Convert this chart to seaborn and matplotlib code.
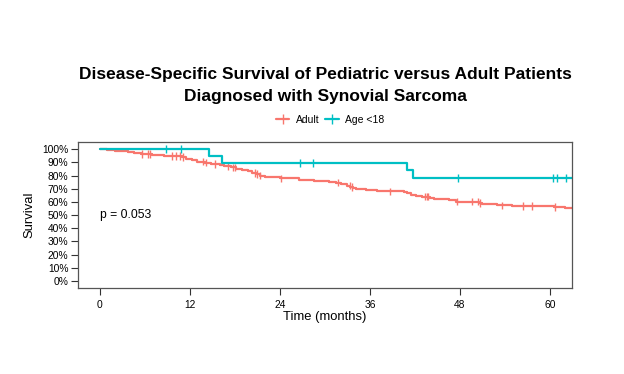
import numpy as np
import pandas as pd
import seaborn as sns
import matplotlib.pyplot as plt
from matplotlib.lines import Line2D
from matplotlib.ticker import PercentFormatter

sns.set_style('white')
plt.rcParams['font.family'] = ['Liberation Sans', 'DejaVu Sans']
plt.rcParams['text.color'] = 'black'
plt.rcParams['axes.labelcolor'] = 'black'
plt.rcParams['xtick.color'] = 'black'
plt.rcParams['ytick.color'] = 'black'

# step points of the Kaplan-Meier curves (time in months, survival after the step)
adult_time = [0, 1.0, 2.0, 3.0, 3.7, 4.5, 5.5, 7.0, 8.5, 11.0, 11.5, 12.3, 13.0, 14.0,
              14.8, 16.0, 16.5, 17.5, 18.2, 19.0, 19.8, 20.3, 20.8, 21.3, 22.0, 23.0,
              24.0, 26.5, 28.5, 30.5, 31.5, 32.2, 33.0, 33.4, 33.8, 34.2, 35.5, 37.0,
              40.5, 41.0, 41.5, 42.2, 43.0, 44.0, 44.5, 46.5, 47.5, 50.5, 51.0, 53.0,
              55.0, 60.5, 62.0, 62.7, 64.0]
adult_surv = [1.0, 0.995, 0.99, 0.983, 0.977, 0.970, 0.964, 0.958, 0.951, 0.940, 0.926,
              0.915, 0.906, 0.899, 0.890, 0.880, 0.873, 0.862, 0.852, 0.842, 0.832, 0.820,
              0.810, 0.800, 0.792, 0.786, 0.778, 0.770, 0.762, 0.754, 0.746, 0.737, 0.724,
              0.711, 0.703, 0.696, 0.688, 0.680, 0.672, 0.664, 0.656, 0.648, 0.640, 0.628,
              0.620, 0.612, 0.602, 0.592, 0.584, 0.574, 0.567, 0.563, 0.557, 0.550, 0.550]
adult_censor = [5.6, 6.4, 6.7, 9.6, 10.2, 10.7, 11.1, 13.8, 14.2, 15.3, 17.1, 17.8, 18.0,
                20.7, 20.9, 21.3, 24.2, 31.8, 33.3, 33.6, 38.7, 43.3, 43.6, 43.8, 47.6,
                49.6, 50.4, 50.7, 53.6, 56.4, 57.6, 60.7]

child_time = [0, 14.5, 16.3, 41.0, 41.8, 64.0]
child_surv = [1.0, 0.95, 0.896, 0.84, 0.78, 0.78]
child_censor = [8.8, 10.8, 26.7, 28.4, 47.8, 60.4, 60.9, 62.1]

groups = ['Adult', 'Age <18']
colors = ['#F8766D', '#00BFC4']


def surv_at(times, survs, t):
    idx = np.searchsorted(times, t, side='right') - 1
    return np.asarray(survs)[idx]


curves = pd.concat([
    pd.DataFrame({'time': adult_time, 'surv': adult_surv, 'group': 'Adult'}),
    pd.DataFrame({'time': child_time, 'surv': child_surv, 'group': 'Age <18'}),
])
censors = pd.concat([
    pd.DataFrame({'time': adult_censor, 'surv': surv_at(adult_time, adult_surv, adult_censor), 'group': 'Adult'}),
    pd.DataFrame({'time': child_censor, 'surv': surv_at(child_time, child_surv, child_censor), 'group': 'Age <18'}),
])

fig = plt.figure(figsize=(6.24, 3.74), dpi=100)
ax = fig.add_axes([0.125, 0.231, 0.791, 0.390])

palette = dict(zip(groups, colors))
for g in groups:
    d = curves[curves.group == g]
    ax.step(d.time, d.surv, where='post', color=palette[g], lw=1.6)
sns.scatterplot(data=censors, x='time', y='surv', hue='group', palette=palette,
                marker='|', s=30, linewidth=1.0, legend=False, ax=ax)

ax.set_xlim(-2.93, 62.9)
ax.set_ylim(-0.051, 1.057)
ax.set_xticks([0, 12, 24, 36, 48, 60])
ax.set_yticks(np.arange(0, 1.01, 0.1))
ax.yaxis.set_major_formatter(PercentFormatter(1.0, decimals=0))
ax.tick_params(axis='both', direction='out', length=5, width=0.8, labelsize=7.4,
               left=True, bottom=True, color='#333333', pad=2)
ax.tick_params(axis='x', pad=4)
for s in ax.spines.values():
    s.set_color('#555555')
    s.set_linewidth(0.9)

ax.set_xlabel('Time (months)', fontsize=9.4, labelpad=1)
ax.set_ylabel('Survival', fontsize=9.4)
ax.yaxis.set_label_coords(-0.086, 0.5)
ax.text(0, 0.5, 'p = 0.053', fontsize=8.7, ha='left', va='center')

handles = [Line2D([], [], color=c, lw=1.6, marker='|', markersize=7, markeredgewidth=1.0)
           for c in colors]
fig.legend(handles, groups, loc='center', bbox_to_anchor=(0.529, 0.679), ncol=2,
           frameon=False, fontsize=7.5, handlelength=1.3, columnspacing=0.6, handletextpad=0.6)

fig.text(0.521, 0.822, 'Disease-Specific Survival of Pediatric versus Adult Patients\n'
         'Diagnosed with Synovial Sarcoma', fontsize=12.5, fontweight='bold',
         ha='center', va='top', linespacing=1.62, multialignment='center')

fig.savefig('out.png', dpi=100)
